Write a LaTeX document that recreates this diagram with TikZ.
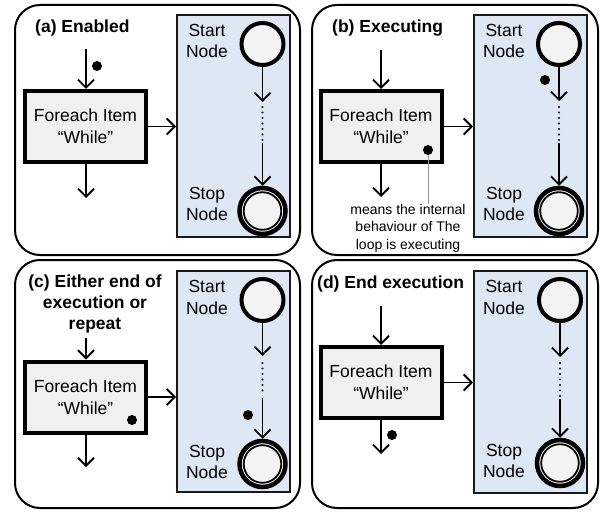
\documentclass[tikz,border=0pt]{standalone}
\usepackage{fontspec}
\setmainfont{Liberation Sans}
\usetikzlibrary{arrows.meta}

\definecolor{loopbg}{RGB}{222,231,244}
\definecolor{boxfill}{RGB}{240,240,240}
\definecolor{circfill}{RGB}{243,243,243}
\definecolor{calloutgray}{RGB}{150,150,150}

\tikzset{
  panel/.style={draw=black, line width=2pt, rounded corners=25pt},
  loopregion/.style={draw=black!90, line width=2pt, fill=loopbg, rectangle,
    minimum width=113pt, inner sep=0pt},
  actbox/.style={draw=black, line width=4pt, fill=boxfill, rectangle,
    minimum width=121pt, minimum height=71pt, align=center, inner sep=0pt,
    font=\fontsize{17.5}{22}\selectfont},
  startcirc/.style={circle, draw=black, line width=4pt, fill=circfill,
    minimum size=42pt, inner sep=0pt},
  stopcirc/.style={circle, draw=black, line width=4.5pt, fill=circfill,
    minimum size=46pt, inner sep=0pt,
    path picture={
      \draw[white, line width=1pt] (path picture bounding box.center) circle (20.2pt);
      \draw[black, line width=1.8pt] (path picture bounding box.center) circle (18.8pt);
    }},
  nodelabel/.style={align=center, inner sep=0pt,
    font=\fontsize{17.5}{21.5}\selectfont},
  paneltitle/.style={inner sep=0pt, align=center,
    font=\fontsize{17.5}{21}\selectfont\bfseries},
  token/.style={circle, fill=black, inner sep=0pt, minimum size=10pt},
  flow/.style={line width=1.9pt, -{Straight Barb[length=8pt,width=16pt,line width=1.9pt]}},
  dotline/.style={line width=2.2pt, line cap=round, dash pattern=on 0pt off 5.5pt},
  callout/.style={draw=calloutgray, line width=0.9pt},
  callouttext/.style={align=center, inner sep=0pt,
    font=\fontsize{14}{17.5}\selectfont},
}

\begin{document}
\begin{tikzpicture}[x=1pt, y=-1pt]
\useasboundingbox (0,0) rectangle (605,513);

% ---------------- (a) Enabled ----------------
\draw[panel] (15,5) rectangle (300,255);
\node[paneltitle, anchor=west] (ta) at (35,28) {(a) Enabled};
\node[loopregion, minimum height=222pt] (ra) at (233.5,126) {};
\node[startcirc] (sa) at (262.5,44) {};
\node[stopcirc] (ea) at (262.5,211) {};
\node[nodelabel] (lsa) at (207,41) {Start\\Node};
\node[nodelabel] (lea) at (207,204) {Stop\\Node};
\coordinate (a1) at (262.5,102);
\coordinate (a2) at (262.5,107);
\coordinate (a3) at (262.5,140);
\coordinate (a4) at (262.5,143);
\draw[flow] (sa) -- (a1);
\draw[dotline] (a2) -- (a3);
\draw[flow] (a4) -- (ea);
\node[actbox] (ba) at (85.5,126.5) {Foreach Item\\``While''};
\coordinate (ia) at (86,49);
\coordinate (oa) at (86,198);
\draw[flow] (ia) -- (ba.north -| ia);
\draw[flow] (ba.south -| oa) -- (oa);
\draw[flow] (ba.east) -- (ba.east -| ra.west);
\node[token] (ka) at (97,66) {};

% ---------------- (b) Executing ----------------
\draw[panel] (312,5) rectangle (598,255);
\node[paneltitle, anchor=west] (tb) at (332,28) {(b) Executing};
\node[loopregion, minimum height=222pt] (rb) at (530.5,126) {};
\node[startcirc] (sb) at (559,44) {};
\node[stopcirc] (eb) at (559,211) {};
\node[nodelabel] (lsb) at (504,41) {Start\\Node};
\node[nodelabel] (leb) at (504,204) {Stop\\Node};
\coordinate (b1) at (559,101);
\coordinate (b2) at (559,107);
\coordinate (b3) at (559,140);
\coordinate (b4) at (559,143);
\draw[flow] (sb) -- (b1);
\draw[dotline] (b2) -- (b3);
\draw[flow] (b4) -- (eb);
\node[token] (kb2) at (545,80) {};
\node[actbox] (bb) at (381,126.5) {Foreach Item\\``While''};
\coordinate (ib) at (381,50);
\coordinate (ob) at (381,197);
\draw[flow] (ib) -- (bb.north -| ib);
\draw[flow] (bb.south -| ob) -- (ob);
\draw[flow] (bb.east) -- (bb.east -| rb.west);
\node[token] (kb) at (428,150) {};
\node[callouttext] (cb) at (408,228) {means the internal\\behaviour of The\\loop is executing};
\coordinate (cbt) at (428,204);
\draw[callout] (kb) -- (cbt);

% ---------------- (c) Either end of execution or repeat ----------------
\draw[panel] (15,260) rectangle (300,508);
\node[paneltitle] (tc) at (95,304) {(c) Either end of\\execution or\\repeat};
\node[loopregion, minimum height=221pt] (rc) at (233.5,381.5) {};
\node[startcirc] (sc) at (262.5,300) {};
\node[stopcirc] (ec) at (262.5,464) {};
\node[nodelabel] (lsc) at (207,297.5) {Start\\Node};
\node[nodelabel] (lec) at (207,462) {Stop\\Node};
\coordinate (c1) at (262.5,356);
\coordinate (c2) at (262.5,363);
\coordinate (c3) at (262.5,395);
\coordinate (c4) at (262.5,398);
\draw[flow] (sc) -- (c1);
\draw[dotline] (c2) -- (c3);
\draw[flow] (c4) -- (ec);
\node[token] (kc2) at (248,415) {};
\node[actbox] (bc) at (85.5,397) {Foreach Item\\``While''};
\coordinate (ic) at (86,338);
\coordinate (oc) at (86,467);
\draw[flow] (ic) -- (bc.north -| ic);
\draw[flow] (bc.south -| oc) -- (oc);
\draw[flow] (bc.east) -- (bc.east -| rc.west);
\node[token] (kc) at (132,420) {};

% ---------------- (d) End execution ----------------
\draw[panel] (312,260) rectangle (598,508);
\node[paneltitle, anchor=west] (td) at (317,284) {(d) End execution};
\node[loopregion, minimum height=222pt] (rd) at (530.5,382) {};
\node[startcirc] (sd) at (560,300) {};
\node[stopcirc] (ed) at (560,463) {};
\node[nodelabel] (lsd) at (504,297.5) {Start\\Node};
\node[nodelabel] (led) at (504,461) {Stop\\Node};
\coordinate (d1) at (560,357);
\coordinate (d2) at (560,363);
\coordinate (d3) at (560,396);
\coordinate (d4) at (560,399);
\draw[flow] (sd) -- (d1);
\draw[dotline] (d2) -- (d3);
\draw[flow] (d4) -- (ed);
\node[actbox] (bd) at (381,382.5) {Foreach Item\\``While''};
\coordinate (id) at (381,306);
\coordinate (od) at (381,454);
\draw[flow] (id) -- (bd.north -| id);
\draw[flow] (bd.south -| od) -- (od);
\draw[flow] (bd.east) -- (bd.east -| rd.west);
\node[token] (kd) at (392,435) {};
\end{tikzpicture}
\end{document}
